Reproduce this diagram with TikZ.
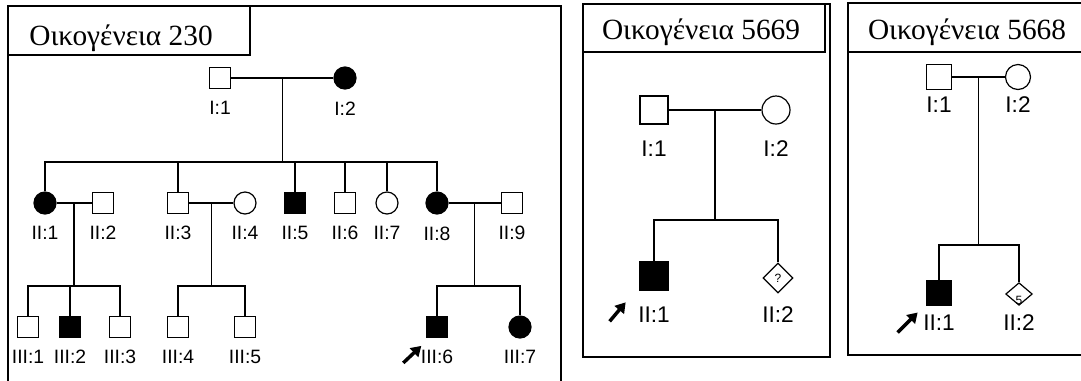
\documentclass[tikz,border=0pt]{standalone}
\usepackage{fontspec}
\setmainfont{Liberation Serif}
\setsansfont{Liberation Sans}
\usetikzlibrary{shapes.geometric, arrows.meta, calc}

\begin{document}
\begin{tikzpicture}[
    x=0.75pt, y=-0.75pt,
    line width=0.9pt,
    frame/.style={draw, line width=1.4pt},
    famtitle/.style={anchor=base, inner sep=0pt, font=\fontsize{22}{24}\selectfont},
    male/.style={rectangle, draw, inner sep=0pt, minimum size=15.75pt},
    female/.style={circle, draw, inner sep=0pt, minimum size=16.5pt},
    unknown/.style={diamond, draw, inner sep=0pt, font=\sffamily\fontsize{9}{9}\selectfont},
    affected/.style={fill=black},
    proband/.style={-{Triangle[length=7.5pt, width=9pt]}, line width=2.6pt}
]
\useasboundingbox (0,0) rectangle (1081,380);

% ---------------- Family 230 ----------------
\draw[frame] (8,390) |- (561,6) -- (561,390);
\draw[frame] (8,6) rectangle (250,55);
\node[famtitle] (f230title) at (121,45) {Οικογένεια 230};

\begin{scope}[every label/.style={font=\sffamily\fontsize{14.5}{14.5}\selectfont, inner sep=0pt},
              label distance=8.5pt]
% Generation I
\node[male] (f230i1) at (220,78) [label=below:{I:1}] {};
\node[female, affected] (f230i2) at (345,78) [label=below:{I:2}] {};

% Generation II
\node[female, affected] (f230ii1) at (45,203) [label=below:{II:1}] {};
\node[male] (f230ii2) at (103,203) [label=below:{II:2}] {};
\node[male] (f230ii3) at (178,203) [label=below:{II:3}] {};
\node[female] (f230ii4) at (245,203) [label=below:{II:4}] {};
\node[male, affected] (f230ii5) at (295,203) [label=below:{II:5}] {};
\node[male] (f230ii6) at (345,203) [label=below:{II:6}] {};
\node[female] (f230ii7) at (387,203) [label=below:{II:7}] {};
\node[female, affected] (f230ii8) at (437,203) [label=below:{II:8}] {};
\node[male] (f230ii9) at (512,203) [label=below:{II:9}] {};

% Generation III
\node[male] (f230iii1) at (28,327) [label=below:{III:1}] {};
\node[male, affected] (f230iii2) at (70,327) [label=below:{III:2}] {};
\node[male] (f230iii3) at (120,327) [label=below:{III:3}] {};
\node[male] (f230iii4) at (178,327) [label=below:{III:4}] {};
\node[male] (f230iii5) at (245,327) [label=below:{III:5}] {};
\node[male, affected] (f230iii6) at (437,327) [label={[name=f230l36]below:{III:6}}] {};
\node[female, affected] (f230iii7) at (520,327) [label=below:{III:7}] {};
\end{scope}

% couples, descent and sibship lines
\draw (f230i1) -- (f230i2);
\coordinate (f230m1) at ($(f230i1)!.5!(f230i2)$);
\coordinate (f230s1) at ($(f230m1)+(0,84)$);
\draw (f230m1) -- (f230s1);
\draw (f230ii1) |- (f230s1) -| (f230ii8);
\foreach \c in {ii3,ii5,ii6,ii7}
    \draw (f230\c) -- (f230\c |- f230s1);

\draw (f230ii1) -- (f230ii2);
\coordinate (f230m2) at ($(f230ii1)!.5!(f230ii2)$);
\coordinate (f230s2) at ($(f230m2)+(0,83)$);
\draw (f230m2) -- (f230s2);
\draw (f230iii1) |- (f230s2) -| (f230iii3);
\draw (f230iii2) -- (f230iii2 |- f230s2);

\draw (f230ii3) -- (f230ii4);
\coordinate (f230m3) at ($(f230ii3)!.5!(f230ii4)$);
\coordinate (f230s3) at ($(f230m3)+(0,83)$);
\draw (f230m3) -- (f230s3);
\draw (f230iii4) |- (f230s3) -| (f230iii5);

\draw (f230ii8) -- (f230ii9);
\coordinate (f230m4) at ($(f230ii8)!.5!(f230ii9)$);
\coordinate (f230s4) at ($(f230m4)+(0,83)$);
\draw (f230m4) -- (f230s4);
\draw (f230iii6) |- (f230s4) -| (f230iii7);

\draw[proband] ([shift={(-17,6)}]f230l36.west) -- ([shift={(1,-11)}]f230l36.west);

% ---------------- Family 5669 ----------------
\draw[frame] (583,4) rectangle (830,357);
\draw[frame] (583,4) rectangle (825,52);
\node[famtitle] (f5669title) at (701,39) {Οικογένεια 5669};

\begin{scope}[every label/.style={font=\sffamily\fontsize{17}{17}\selectfont, inner sep=0pt},
              label distance=11.5pt,
              male/.append style={minimum size=21pt},
              female/.append style={minimum size=21pt}]
\node[male] (f5669i1) at (654,110) [label=below:{I:1}] {};
\node[female] (f5669i2) at (776,110) [label=below:{I:2}] {};
\node[male, affected] (f5669ii1) at (654,276) [label={[name=f5669l21]below:{II:1}}] {};
\node[unknown, minimum size=22.5pt] (f5669ii2) at (778,278) [label={[yshift=2pt]below:{II:2}}] {?};
\end{scope}

\draw (f5669i1) -- (f5669i2);
\coordinate (f5669m1) at ($(f5669i1)!.5!(f5669i2)$);
\coordinate (f5669s1) at ($(f5669m1)+(0,110)$);
\draw (f5669m1) -- (f5669s1);
\draw (f5669ii1) |- (f5669s1) -| (f5669ii2);

\draw[proband] ([shift={(-28,7)}]f5669l21.west) -- ([shift={(-12,-12)}]f5669l21.west);

% ---------------- Family 5668 ----------------
\draw[frame] (1090,3) -| (848,355) -- (1090,355);
\draw[frame] (848,3) rectangle (1090,52);
\node[famtitle] (f5668title) at (967,39) {Οικογένεια 5668};

\begin{scope}[every label/.style={font=\sffamily\fontsize{17}{17}\selectfont, inner sep=0pt},
              label distance=6pt,
              male/.append style={minimum size=18.75pt},
              female/.append style={minimum size=18.75pt}]
\node[male] (f5668i1) at (939,77) [label={[yshift=1.5pt]below:{I:1}}] {};
\node[female] (f5668i2) at (1018,77) [label={[yshift=1.5pt]below:{I:2}}] {};
\node[male, affected] (f5668ii1) at (939,293) [label={[name=f5668l21]below:{II:1}}] {};
\node[unknown, minimum width=20pt, minimum height=17pt] (f5668ii2) at (1019,294)
    [label={[font=\sffamily\fontsize{9}{9}\selectfont, yshift=-4.5pt]center:5},
     label=below:{II:2}] {};
\end{scope}

\draw (f5668i1) -- (f5668i2);
\coordinate (f5668m1) at ($(f5668i1)!.5!(f5668i2)$);
\coordinate (f5668s1) at ($(f5668m1)+(0,168)$);
\draw (f5668m1) -- (f5668s1);
\draw (f5668ii1) |- (f5668s1) -| (f5668ii2);

\draw[proband] ([shift={(-25,10)}]f5668l21.west) -- ([shift={(-5,-10)}]f5668l21.west);

\end{tikzpicture}
\end{document}
